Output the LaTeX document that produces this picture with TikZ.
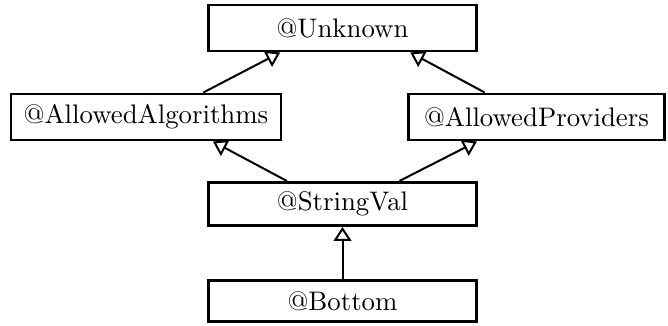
\documentclass[tikz,border=0pt]{standalone}
\usetikzlibrary{arrows.meta,calc}
\begin{document}
\begin{tikzpicture}[x=0.373pt,y=-0.373pt,
  typebox/.style={draw,line width=1.1pt,rectangle,inner sep=0pt,font=\normalsize},
  subtype/.style={line width=0.75pt,-{Triangle[open,length=5.2pt,width=6.6pt,line width=0.75pt]}}]
  \useasboundingbox (0,0) rectangle (668,326);
  % type hierarchy boxes
  \node[typebox,minimum width=268*0.373pt,minimum height=46*0.373pt] (unk) at (342.5,28) {@Unknown};
  \node[typebox,minimum width=270*0.373pt,minimum height=46*0.373pt] (alg) at (146,117) {@AllowedAlgorithms};
  \node[typebox,minimum width=256*0.373pt,minimum height=46*0.373pt] (prov) at (536.5,117) {@AllowedProviders};
  \node[typebox,minimum width=268*0.373pt,minimum height=43*0.373pt] (sv) at (342.5,204) {@StringVal};
  \node[typebox,minimum width=268*0.373pt,minimum height=41*0.373pt] (bot) at (342.5,301) {@Bottom};
  % subtype edges
  \draw[subtype] ($(alg.north west)!0.71!(alg.north east)$) -- ($(unk.south west)!0.27!(unk.south east)$);
  \draw[subtype] ($(prov.north west)!0.30!(prov.north east)$) -- ($(unk.south west)!0.75!(unk.south east)$);
  \draw[subtype] ($(sv.north west)!0.295!(sv.north east)$) -- ($(alg.south west)!0.745!(alg.south east)$);
  \draw[subtype] ($(sv.north west)!0.71!(sv.north east)$) -- ($(prov.south west)!0.27!(prov.south east)$);
  \draw[subtype] (bot.north) -- (sv.south);
\end{tikzpicture}
\end{document}
